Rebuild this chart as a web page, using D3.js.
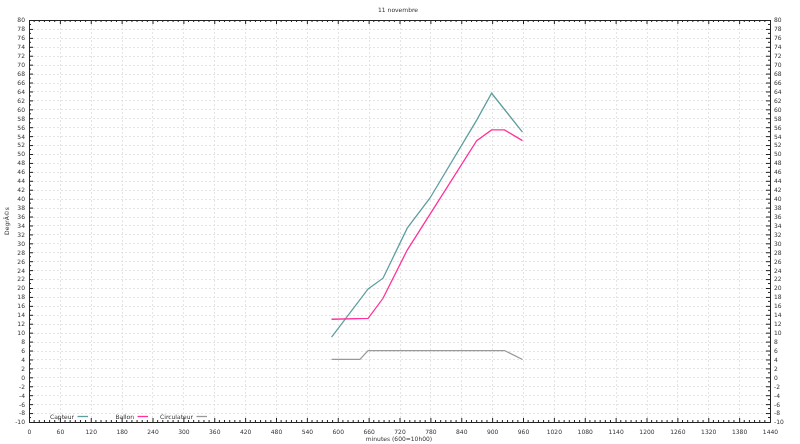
<!DOCTYPE html>
<html><head><meta charset="utf-8">
<script src="https://cdn.jsdelivr.net/npm/d3@7"></script>
<style>body{margin:0;background:#fff}svg{display:block;opacity:0.999;will-change:transform}text{font-family:"DejaVu Sans",sans-serif;font-size:6px;fill:#333}</style>
</head><body><svg id="c" width="800" height="444"></svg>
<script>
const capteurT = [588, 659, 688, 735, 779, 870, 899, 959];
const capteurV = [9, 19.8, 22.2, 33.4, 40.1, 57.6, 63.6, 54.9];
const ballonT = [588, 659, 688, 735, 870, 899, 924, 959];
const ballonV = [13, 13.2, 17.7, 28.5, 53, 55.4, 55.4, 53];
const circT = [588, 643, 659, 924, 959];
const circV = [4, 4, 6, 6, 4];
const xTicks = d3.range(0, 1441, 60);
const yTicks = d3.range(-10, 81, 2);
const seriesNames = ["Capteur", "Ballon", "Circulateur"];
const colors = ["#5f9ea0", "#ff3399", "#999999"];

const svg = d3.select("#c");
const L = 29, R = 770, T = 20, B = 422;
const x = d3.scaleLinear().domain([0, 1440]).range([L, R]);
const y = d3.scaleLinear().domain([-10, 80]).range([B, T]);
const fmt = d => String(d);

// grid
const g = svg.append("g");
g.selectAll(".gx").data(xTicks.slice(1, -1)).join("line")
  .attr("x1", d => Math.round(x(d)) + .5).attr("x2", d => Math.round(x(d)) + .5).attr("y1", T).attr("y2", B)
  .attr("stroke", "#e4e4e4").attr("stroke-dasharray", "2,2").attr("stroke-width", 1);
g.selectAll(".gy").data(yTicks.slice(1, -1)).join("line")
  .attr("y1", d => Math.round(y(d)) + .5).attr("y2", d => Math.round(y(d)) + .5).attr("x1", L).attr("x2", R)
  .attr("stroke", "#e4e4e4").attr("stroke-dasharray", "2,2").attr("stroke-width", 1);

// axes
const axB = d3.axisBottom(x).tickValues(xTicks).tickSize(-4).tickPadding(8).tickFormat(fmt);
const axT = d3.axisTop(x).tickValues(xTicks).tickSize(-4).tickFormat("");
const axL = d3.axisLeft(y).tickValues(yTicks).tickSize(-4).tickPadding(4).tickFormat(fmt);
const axR = d3.axisRight(y).tickValues(yTicks).tickSize(-4).tickPadding(4).tickFormat(fmt);
function style(sel) {
  sel.select(".domain").attr("stroke", "#222");
  sel.selectAll(".tick line").attr("stroke", "#222");
  sel.selectAll("text").attr("fill", "#333").style("font-size", "6px").style("font-family", "DejaVu Sans");
}
svg.append("g").attr("transform", `translate(0,${B})`).call(axB).call(style);
svg.append("g").attr("transform", `translate(0,${T})`).call(axT).call(style);
svg.append("g").attr("transform", `translate(${L},0)`).call(axL).call(style);
svg.append("g").attr("transform", `translate(${R},0)`).call(axR).call(style);
// minor ticks
const minorX = d3.range(0, 1441, 10).filter(d => d % 60);
svg.append("g").selectAll("line").data(minorX).join("line")
  .attr("x1", d => x(d)).attr("x2", d => x(d)).attr("y1", B).attr("y2", B - 2).attr("stroke", "#222");
svg.append("g").selectAll("line").data(minorX).join("line")
  .attr("x1", d => x(d)).attr("x2", d => x(d)).attr("y1", T).attr("y2", T + 2).attr("stroke", "#222");
const minorY = d3.range(-9, 80, 2);
svg.append("g").selectAll("line").data(minorY).join("line")
  .attr("y1", d => y(d)).attr("y2", d => y(d)).attr("x1", L).attr("x2", L + 2).attr("stroke", "#222");
svg.append("g").selectAll("line").data(minorY).join("line")
  .attr("y1", d => y(d)).attr("y2", d => y(d)).attr("x1", R).attr("x2", R - 2).attr("stroke", "#222");

// lines
const line = d3.line().x(d => x(d[0])).y(d => y(d[1]));
const data = [d3.zip(capteurT, capteurV), d3.zip(ballonT, ballonV), d3.zip(circT, circV)];
data.forEach((d, i) => {
  svg.append("path").datum(d).attr("d", line).attr("fill", "none")
    .attr("stroke", colors[i]).attr("stroke-width", 1.3);
});

// legend
const legX = [74, 134, 193];
seriesNames.forEach((n, i) => {
  svg.append("text").attr("x", legX[i]).attr("y", 418.5).attr("text-anchor", "end").text(n);
  svg.append("line").attr("x1", legX[i] + 3.5).attr("x2", legX[i] + 14).attr("y1", 416.5).attr("y2", 416.5)
    .attr("stroke", colors[i]).attr("stroke-width", 1.3);
});

// titles
svg.append("text").attr("x", 398).attr("y", 12).attr("text-anchor", "middle").text("11 novembre");
svg.append("text").attr("x", 399).attr("y", 441).attr("text-anchor", "middle").text("minutes (600=10h00)");
svg.append("text").attr("transform", "translate(9,221) rotate(-90)").attr("text-anchor", "middle").text("DegrÃ©s");
</script></body></html>
